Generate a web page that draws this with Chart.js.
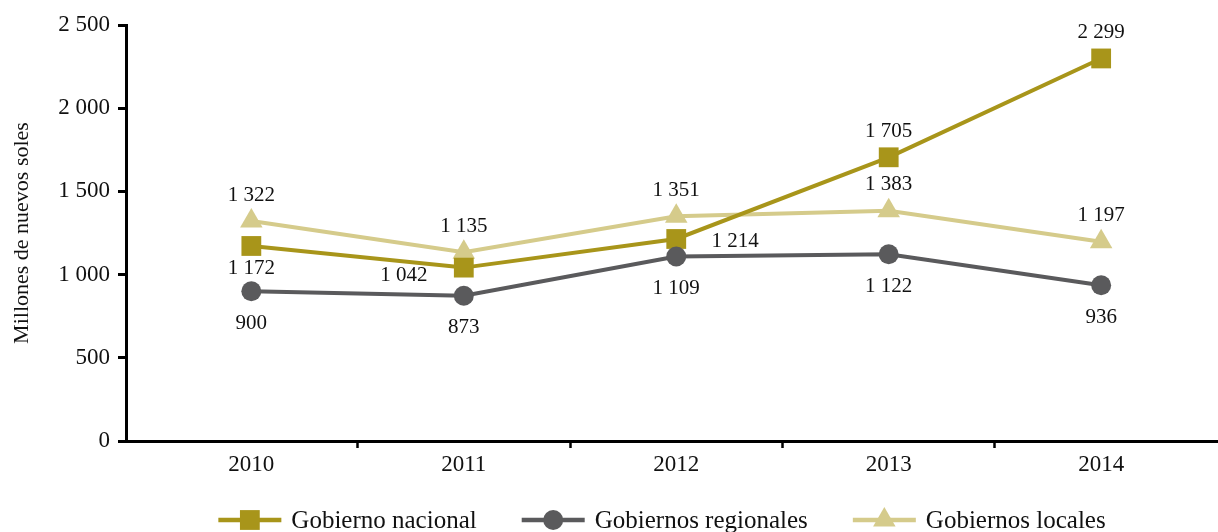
<!DOCTYPE html>
<html>
<head>
<meta charset="utf-8">
<script src="https://cdn.jsdelivr.net/npm/chart.js@4/dist/chart.umd.min.js"></script>
<style>
  html, body { margin: 0; padding: 0; background: #fff; overflow: hidden; }
  #wrap { width: 1218px; height: 532px; position: relative; }
  canvas { display: block; }
</style>
</head>
<body>
<div id="wrap"><canvas id="gastoChart"></canvas></div>
<script>
const years = ['2010', '2011', '2012', '2013', '2014'];
const nacional = [1172, 1042, 1214, 1705, 2299];
const regionales = [900, 873, 1109, 1122, 936];
const locales = [1322, 1135, 1351, 1383, 1197];
const yTicks = [0, 500, 1000, 1500, 2000, 2500];

const FONT = '"Liberation Serif", "Times New Roman", serif';

function fmt(v) {
    return String(v).replace(/\B(?=(\d{3})+(?!\d))/g, ' ');
}

function toPoints(arr) {
    return arr.map((v, i) => ({x: i, y: v}));
}

// data labels, drawn next to each point
const valueLabels = {
    id: 'valueLabels',
    afterDatasetsDraw(chart) {
        const ctx = chart.ctx;
        ctx.save();
        ctx.font = '21px ' + FONT;
        ctx.fillStyle = '#111';
        ctx.textAlign = 'center';
        ctx.textBaseline = 'middle';
        chart.data.datasets.forEach((ds, di) => {
            const meta = chart.getDatasetMeta(di);
            meta.data.forEach((pt, i) => {
                const pos = ds.labelPos[i];
                let dx = 0, dy = 0;
                if (pos === 'above') dy = -26;
                if (pos === 'below') dy = ds.belowGap;
                if (pos === 'left') { dx = -60; dy = 8; }
                if (pos === 'right') { dx = 59; dy = 2; }
                ctx.fillText(fmt(ds.data[i].y), pt.x + dx, pt.y + dy);
            });
        });
        ctx.restore();
    }
};

// legend with line + marker like the original
const lineLegend = {
    id: 'lineLegend',
    afterDraw(chart) {
        const ctx = chart.ctx;
        const y = 520;
        const lineLen = 63, gap = 10, between = 45;
        ctx.save();
        ctx.font = '25px ' + FONT;
        const items = chart.data.datasets.map(ds => ({ds, w: ctx.measureText(ds.label).width}));
        const total = items.reduce((s, it) => s + lineLen + gap + it.w, 0) + between * (items.length - 1);
        let x = 662 - total / 2;
        items.forEach(it => {
            const ds = it.ds;
            ctx.strokeStyle = ds.borderColor;
            ctx.lineWidth = 4.5;
            ctx.beginPath();
            ctx.moveTo(x, y);
            ctx.lineTo(x + lineLen, y);
            ctx.stroke();
            ctx.fillStyle = ds.backgroundColor;
            Chart.helpers.drawPoint(ctx, {pointStyle: ds.pointStyle, radius: ds.pointRadius, rotation: 0, borderWidth: 0}, x + lineLen / 2, y);
            ctx.fillStyle = '#111';
            ctx.textAlign = 'left';
            ctx.textBaseline = 'middle';
            ctx.fillText(ds.label, x + lineLen + gap, y + 1);
            x += lineLen + gap + it.w + between;
        });
        ctx.restore();
    }
};

new Chart(document.getElementById('gastoChart').getContext('2d'), {
    type: 'line',
    data: {
        datasets: [
            {
                label: 'Gobierno nacional',
                data: toPoints(nacional),
                borderColor: '#A8951A',
                backgroundColor: '#A8951A',
                borderWidth: 4,
                pointStyle: 'rect',
                pointRadius: 14,
                pointBorderWidth: 0,
                order: 1,
                labelPos: ['below', 'left', 'right', 'above', 'above'],
                belowGap: 23
            },
            {
                label: 'Gobiernos regionales',
                data: toPoints(regionales),
                borderColor: '#5A5A5C',
                backgroundColor: '#5A5A5C',
                borderWidth: 4,
                pointStyle: 'circle',
                pointRadius: 10,
                pointBorderWidth: 0,
                order: 0,
                labelPos: ['below', 'below', 'below', 'below', 'below'],
                belowGap: 32
            },
            {
                label: 'Gobiernos locales',
                data: toPoints(locales),
                borderColor: '#D5CB8B',
                backgroundColor: '#D5CB8B',
                borderWidth: 4,
                pointStyle: 'triangle',
                pointRadius: 13,
                pointBorderWidth: 0,
                order: 2,
                labelPos: ['above', 'above', 'above', 'above', 'above'],
                belowGap: 30
            }
        ]
    },
    options: {
        responsive: true,
        maintainAspectRatio: false,
        animation: false,
        layout: { autoPadding: false, padding: {top: 25, bottom: 51, left: 0, right: 0} },
        plugins: {
            legend: { display: false },
            tooltip: { enabled: false }
        },
        scales: {
            x: {
                type: 'linear',
                min: -0.59,
                max: 4.55,
                afterBuildTicks(scale) {
                    scale.ticks = [0, 0.5, 1, 1.5, 2, 2.5, 3, 3.5, 4].map(v => ({value: v}));
                },
                afterFit(scale) {
                    scale.height = 40;
                    scale.paddingLeft = 0;
                    scale.paddingRight = 0;
                },
                ticks: {
                    autoSkip: false,
                    maxRotation: 0,
                    padding: 3,
                    color: '#111',
                    font: {family: FONT, size: 23},
                    callback: v => Number.isInteger(v) ? years[v] : ''
                },
                grid: {
                    drawOnChartArea: false,
                    drawTicks: true,
                    tickLength: 7,
                    tickWidth: 2.5,
                    color: c => (c.tick && Number.isInteger(c.tick.value)) ? 'rgba(0,0,0,0)' : '#000'
                },
                border: { display: true, color: '#000', width: 3 }
            },
            y: {
                min: 0,
                max: 2500,
                afterBuildTicks(scale) {
                    scale.ticks = yTicks.map(v => ({value: v}));
                },
                afterFit(scale) { scale.width = 126; },
                title: {
                    display: true,
                    text: 'Millones de nuevos soles',
                    color: '#111',
                    font: {family: FONT, size: 22},
                    padding: {top: 9, bottom: 0}
                },
                ticks: {
                    padding: 8,
                    color: '#111',
                    font: {family: FONT, size: 23},
                    callback: v => fmt(v)
                },
                grid: {
                    drawOnChartArea: false,
                    drawTicks: true,
                    tickLength: 8,
                    tickWidth: 3,
                    color: '#000'
                },
                border: { display: true, color: '#000', width: 3 }
            }
        }
    },
    plugins: [valueLabels, lineLegend]
});
</script>
</body>
</html>
